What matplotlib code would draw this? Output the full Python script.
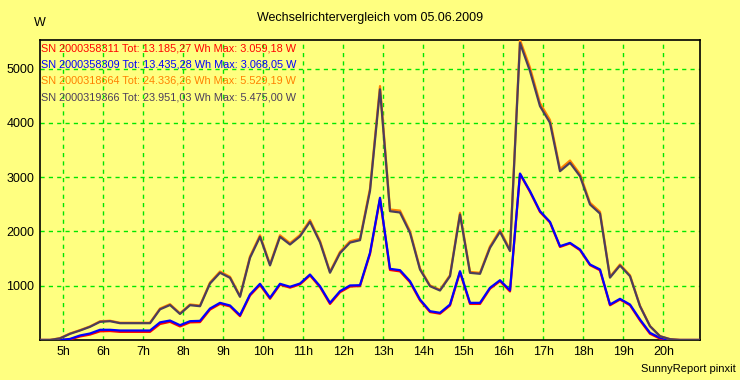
import numpy as np
import pandas as pd
import matplotlib
matplotlib.use("Agg")
import matplotlib.pyplot as plt

plt.rcParams['font.family'] = ['Liberation Sans', 'DejaVu Sans']

# 15 minute readings, 04:25 .. 20:55
times = pd.date_range('2009-06-05 04:25', periods=67, freq='15min')
hours = times.hour + times.minute / 60.0

# SN 2000358311 (red)
p_311 = [0, 0, 0, 10, 65, 100, 160, 165, 150, 150, 150, 150, 295, 335, 250, 325, 330,
         560, 665, 620, 440, 820, 1015, 760, 1020, 965, 1025, 1190, 975, 665, 880, 985,
         995, 1585, 2600, 1290, 1265, 1065, 730, 515, 485, 635, 1250, 665, 665, 945, 1085,
         895, 3059, 2730, 2360, 2165, 1715, 1780, 1655, 1380, 1285, 640, 745, 640, 360,
         115, 25, 0, 0, 0, 0]
# SN 2000358309 (blue)
p_309 = [0, 0, 0, 20, 83, 120, 188, 188, 175, 175, 175, 175, 325, 359, 273, 347, 353,
         580, 685, 636, 457, 839, 1036, 778, 1036, 981, 1041, 1207, 992, 685, 900, 1005,
         1010, 1607, 2621, 1312, 1287, 1084, 747, 531, 501, 654, 1268, 685, 685, 962, 1102,
         915, 3068, 2743, 2374, 2177, 1729, 1790, 1668, 1392, 1300, 654, 759, 654, 378,
         133, 40, 0, 0, 0, 0]
# SN 2000318664 (orange)
p_664 = [0, 0, 35, 120, 182, 250, 345, 355, 318, 318, 318, 318, 580, 660, 492, 655, 635,
         1060, 1262, 1165, 810, 1540, 1930, 1395, 1930, 1785, 1935, 2210, 1825, 1258, 1625,
         1820, 1865, 2790, 4680, 2405, 2385, 2005, 1320, 1005, 925, 1195, 2345, 1255, 1238,
         1725, 2025, 1665, 5529, 5020, 4365, 4055, 3150, 3308, 3058, 2530, 2362, 1165, 1392,
         1192, 632, 258, 72, 16, 0, 0, 0]
# SN 2000319366 (dark)
p_366 = [0, 0, 30, 114, 175, 243, 335, 347, 310, 310, 310, 310, 565, 645, 480, 642, 623,
         1041, 1240, 1146, 796, 1515, 1902, 1375, 1902, 1760, 1910, 2180, 1800, 1240, 1600,
         1795, 1840, 2750, 4620, 2374, 2350, 1976, 1300, 992, 912, 1176, 2313, 1238, 1220,
         1699, 1995, 1640, 5475, 4955, 4310, 4003, 3111, 3266, 3019, 2498, 2330, 1150, 1373,
         1176, 623, 254, 70, 15, 0, 0, 0]

legend_lines = ['SN 2000358311 Tot: 13.185,27 Wh Max: 3.059,18 W',
                'SN 2000358309 Tot: 13.435,28 Wh Max: 3.068,05 W',
                'SN 2000318664 Tot: 24.336,26 Wh Max: 5.529,19 W',
                'SN 2000319366 Tot: 23.951,03 Wh Max: 5.475,00 W']
colors = ['#ff0000', '#0000ff', '#ff8000', '#4b3d5c']

hour_ticks = list(range(5, 21))
hour_labels = ['%dh' % h for h in hour_ticks]
y_ticks = [1000, 2000, 3000, 4000, 5000]

bg = '#ffff80'
fig = plt.figure(figsize=(7.4, 3.8), dpi=100, facecolor=bg)
ax = fig.add_axes([40 / 740, 40 / 380, 660 / 740, 300 / 380], facecolor=bg)

# red under blue, orange under dark
ax.plot(hours, p_311, color=colors[0], lw=1.6, zorder=3)
ax.plot(hours, p_309, color=colors[1], lw=1.6, zorder=4)
ax.plot(hours, p_664, color=colors[2], lw=1.6, zorder=5)
ax.plot(hours, p_366, color=colors[3], lw=1.6, zorder=6)

ax.set_xlim(hours[0], hours[-1])
ax.set_ylim(0, 5529.19)
ax.set_xticks(hour_ticks)
ax.set_xticklabels(hour_labels)
ax.set_yticks(y_ticks)
ax.tick_params(length=0, labelsize=9, pad=4)
ax.grid(True, color='#00e600', linestyle=(0, (3, 3)), lw=1.0, zorder=1)
for s in ax.spines.values():
    s.set_color('black')
    s.set_linewidth(1.2)

# series summary lines in the top-left corner of the plot
for i, txt in enumerate(legend_lines):
    ax.text(41 / 740, 1 - (48.5 + 16.2 * i) / 380, txt, transform=fig.transFigure,
            color=colors[i], fontsize=7.85, va='center', ha='left', zorder=2)

fig.text(370 / 740, 1 - 18 / 380, 'Wechselrichtervergleich vom 05.06.2009',
         ha='center', va='center', fontsize=9)
fig.text(34 / 740, 1 - 23 / 380, 'W', ha='left', va='center', fontsize=9)
fig.text(736 / 740, 1 - 369 / 380, 'SunnyReport pinxit', ha='right', va='center', fontsize=8)

fig.savefig('out.png', dpi=100, facecolor=bg)
